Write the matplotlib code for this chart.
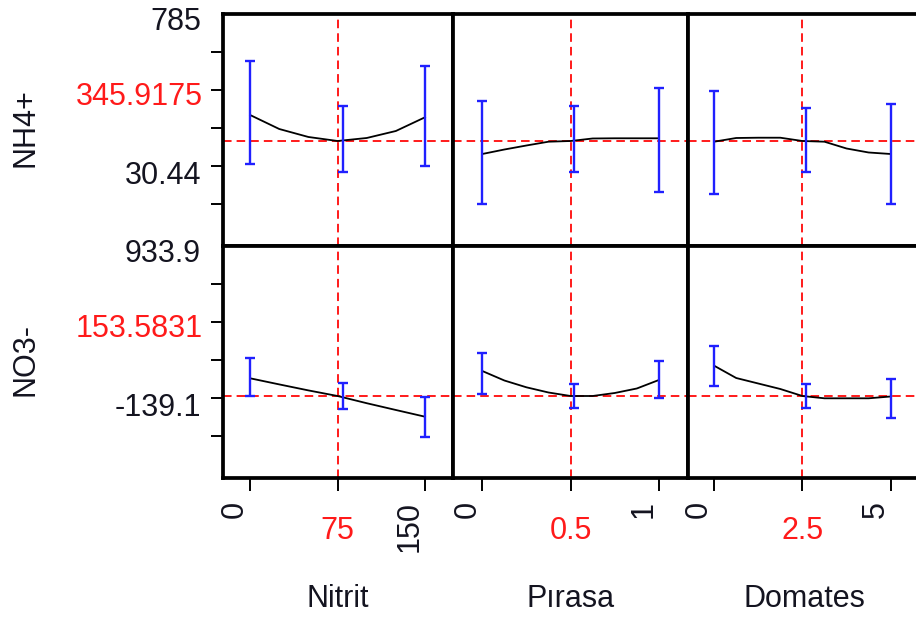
import matplotlib
matplotlib.use("Agg")
import matplotlib.pyplot as plt

plt.rcParams['font.family'] = ['Liberation Sans', 'DejaVu Sans']

# ---------------------------------------------------------------- data
factors = ["Nitrit", "Pırasa", "Domates"]
factor_low = [0, 0, 0]
factor_mid = [75, 0.5, 2.5]
factor_high = [150, 1, 5]
low_labels = ["0", "0", "0"]
mid_labels = ["75", "0.5", "2.5"]
high_labels = ["150", "1", "5"]

responses = ["NH4+", "NO3-"]
response_max = [785, 933.9]
response_pred = [345.9175, 153.5831]
response_notes = ["30.44", "-139.1"]

# profile traces (factor setting -> predicted response)
nitrit_x = [0, 25, 50, 75, 100, 125, 150]
nh4_nitrit = [435.8, 387.4, 359.8, 345.9175, 356.3, 380.5, 427.9]
no3_nitrit = [245.7, 213.9, 182.7, 153.5831, 116.1, 80.8, 45.9]

pirasa_x = [0, 0.125, 0.25, 0.375, 0.5, 0.625, 0.75, 0.875, 1]
nh4_pirasa = [301.0, 316.5, 330.4, 343.5, 345.9175, 354.6, 355.3, 355.3, 355.3]
no3_pirasa = [283.6, 234.2, 198.8, 171.8, 153.5831, 153.6, 169.2, 192.6, 236.8]

domates_x = [0, 0.625, 1.25, 1.875, 2.5, 3.125, 3.75, 4.375, 5]
nh4_domates = [343.5, 356.3, 357.3, 357.3, 345.9175, 343.5, 320.0, 306.2, 301.0]
no3_domates = [311.2, 247.2, 218.6, 190.0, 153.5831, 141.6, 141.6, 141.6, 151.0]

# confidence intervals at the design points
nitrit_bar_x = [0, 80, 150]
pirasa_bar_x = [0, 0.52, 1]
domates_bar_x = [0, 2.6, 5]

nh4_nitrit_lo = [266.4, 239.8, 259.5]
nh4_nitrit_hi = [623.5, 466.9, 606.3]
nh4_pirasa_lo = [128.1, 239.8, 170.6]
nh4_pirasa_hi = [485.3, 466.9, 528.1]
nh4_domates_lo = [162.7, 239.8, 128.1]
nh4_domates_hi = [519.8, 459.0, 473.8]

no3_nitrit_lo = [153.6, 85.9, -58.1]
no3_nitrit_hi = [349.7, 219.7, 149.9]
no3_pirasa_lo = [164.0, 89.6, 141.6]
no3_pirasa_hi = [375.7, 216.0, 335.7]
no3_domates_lo = [205.6, 89.6, 37.6]
no3_domates_hi = [413.7, 216.0, 242.0]

profile_x = [nitrit_x, pirasa_x, domates_x]
profile_y = [[nh4_nitrit, nh4_pirasa, nh4_domates],
             [no3_nitrit, no3_pirasa, no3_domates]]
bar_x = [nitrit_bar_x, pirasa_bar_x, domates_bar_x]
bar_lo = [[nh4_nitrit_lo, nh4_pirasa_lo, nh4_domates_lo],
          [no3_nitrit_lo, no3_pirasa_lo, no3_domates_lo]]
bar_hi = [[nh4_nitrit_hi, nh4_pirasa_hi, nh4_domates_hi],
          [no3_nitrit_hi, no3_pirasa_hi, no3_domates_hi]]

# ---------------------------------------------------------------- layout (pixels)
W, H = 916, 623
col_left = [222.7, 453, 688]
col_width = [230.3, 235, 233]
row_top = [14, 246]
row_h = 232
xlims = [(-23.5, 174), (-0.166, 1.165), (-0.74, 5.86)]
pred_frac = [127 / 232, 150 / 232]   # where the current prediction sits (from top)
tick_px = 38

RED = "#ff1a1a"
BLUE = "#2020ff"
INK = "#141420"
FS = 22


def fx(x):
    return x / W


def fy(y):
    return 1 - y / H


fig = plt.figure(figsize=(W / 100, H / 100), dpi=100)
fig.patch.set_facecolor("white")

dash = (0, (4.4, 2.6))

for r in range(2):
    ymax = response_max[r]
    pred = response_pred[r]
    ymin = ymax - (ymax - pred) / pred_frac[r]
    step = (ymax - ymin) * tick_px / row_h
    yticks = [ymax - k * step for k in range(1, 6)]
    for c in range(3):
        ax = fig.add_axes([fx(col_left[c]), fy(row_top[r] + row_h),
                           col_width[c] / W, row_h / H])
        ax.set_xlim(*xlims[c])
        ax.set_ylim(ymin, ymax)
        ax.set_facecolor("white")
        for s in ax.spines.values():
            s.set_linewidth(2.7)
            s.set_color("black")

        # current settings
        ax.axhline(pred, color=RED, lw=1.4, ls=dash, zorder=2)
        ax.axvline(factor_mid[c], color=RED, lw=1.4, ls=dash, zorder=2)

        # prediction trace
        ax.plot(profile_x[c], profile_y[r][c], color="black", lw=1.3, zorder=3)

        # confidence bars
        lo = bar_lo[r][c]
        hi = bar_hi[r][c]
        mid = [(a + b) / 2 for a, b in zip(lo, hi)]
        err = [[m - a for m, a in zip(mid, lo)], [b - m for m, b in zip(mid, hi)]]
        ax.errorbar(bar_x[c], mid, yerr=err, fmt="none", ecolor=BLUE,
                    elinewidth=1.7, capsize=3.4, capthick=1.7, zorder=4)

        # axis ticks
        if c == 0:
            ax.set_yticks(yticks)
            ax.tick_params(axis="y", direction="out", length=8.8, width=1.4,
                           color="black", labelleft=False)
        else:
            ax.set_yticks([])
        if r == 1:
            ax.set_xticks([factor_low[c], factor_mid[c], factor_high[c]])
            ax.set_xticklabels([low_labels[c], "", high_labels[c]],
                               rotation=90, ha="right", va="top",
                               fontsize=FS, color=INK)
            ax.tick_params(axis="x", direction="out", length=9.4, width=1.4,
                           color="black", pad=7)
            # current setting, below the axis
            ax.annotate(mid_labels[c], xy=(factor_mid[c], 0),
                        xycoords=("data", "axes fraction"),
                        xytext=(0, -53 * 0.72), textcoords="offset points",
                        ha="center", va="center", fontsize=FS, color=RED)
            # factor name
            ax.annotate(factors[c], xy=(0.5, 0), xycoords="axes fraction",
                        xytext=(0, -121 * 0.72), textcoords="offset points",
                        ha="center", va="center", fontsize=FS, color=INK)
        else:
            ax.set_xticks([])

    # response side labels
    top = row_top[r]
    fig.text(fx(201), fy(top + 8), f"{ymax:g}", ha="right", va="center",
             fontsize=FS, color=INK)
    fig.text(fx(203), fy(top + 83), f"{pred:.4f}", ha="right", va="center",
             fontsize=FS, color=RED)
    fig.text(fx(201), fy(top + 162), response_notes[r], ha="right", va="center",
             fontsize=FS, color=INK)
    fig.text(fx(26), fy(top + row_h / 2 - 2), responses[r], rotation=90,
             ha="center", va="center", fontsize=FS, color=INK)

fig.savefig("out.png", dpi=100, facecolor="white")
